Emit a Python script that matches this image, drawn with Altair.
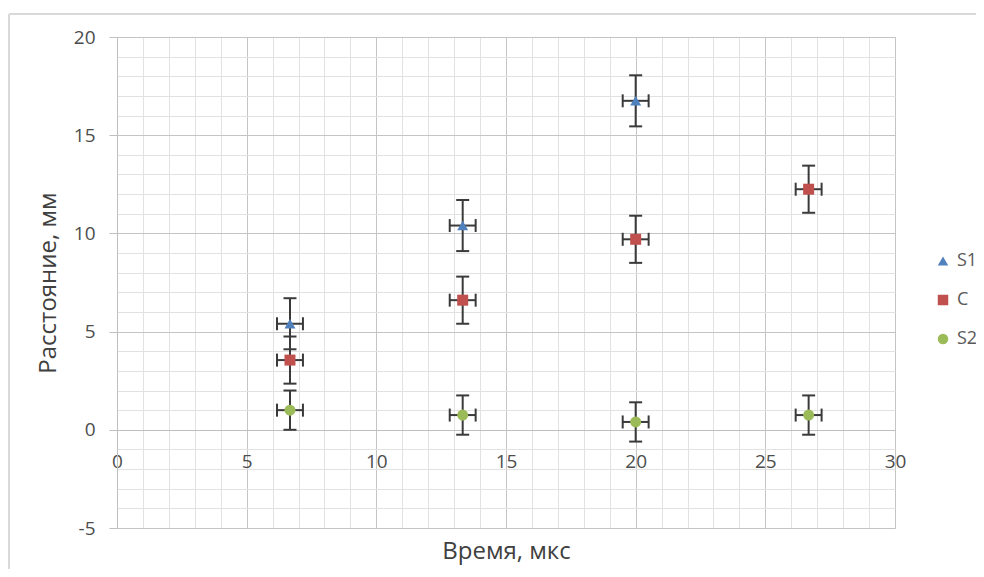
import altair as alt
import pandas as pd

series = ["S1", "S1", "S1", "C", "C", "C", "C", "S2", "S2", "S2", "S2"]
time_us = [6.67, 13.33, 20.0, 6.67, 13.33, 20.0, 26.67, 6.67, 13.33, 20.0, 26.67]
dist_mm = [5.4, 10.4, 16.75, 3.55, 6.6, 9.7, 12.25, 1.0, 0.75, 0.4, 0.75]
y_err = [1.3, 1.3, 1.3, 1.2, 1.2, 1.2, 1.2, 1.0, 1.0, 1.0, 1.0]
x_err = [0.5] * 11

series_order = ["S1", "C", "S2"]
series_colors = ["#4F81BD", "#C0504D", "#9BBB59"]
series_shapes = ["triangle-up", "square", "circle"]

x_major = [0, 5, 10, 15, 20, 25, 30]
y_major = [-5, 0, 5, 10, 15, 20]
x_minor = [v for v in range(0, 31) if v % 5]
y_minor = [v for v in range(-5, 21) if v % 5]

df = pd.DataFrame({"series": series, "t": time_us, "d": dist_mm, "ye": y_err, "xe": x_err})

FONT = "Open Sans"
xs = alt.Scale(domain=[0, 30], nice=False, zero=False)
ys = alt.Scale(domain=[-5, 20], nice=False, zero=False)
BAR = "#3a3a3a"
HYPHEN = "replace(datum.label, '\u2212', '-')"

base = alt.Chart(df).transform_calculate(
    y_lo="datum.d - datum.ye", y_hi="datum.d + datum.ye",
    x_lo="datum.t - datum.xe", x_hi="datum.t + datum.xe",
)

minor_x_axis = alt.Axis(orient="top", values=x_minor, labels=False, ticks=False, domain=False,
                        grid=True, gridColor="#e2e2e2", gridWidth=1, title=None)
minor_y_axis = alt.Axis(orient="right", values=y_minor, labels=False, ticks=False, domain=False,
                        grid=True, gridColor="#e2e2e2", gridWidth=1, title=None)

y_bars = base.mark_rule(color=BAR, strokeWidth=2).encode(
    x=alt.X("t:Q", scale=xs, axis=minor_x_axis),
    y=alt.Y("y_lo:Q", scale=ys, axis=minor_y_axis),
    y2="y_hi:Q",
)
x_bars = base.mark_rule(color=BAR, strokeWidth=2).encode(
    x=alt.X("x_lo:Q", scale=xs, axis=None),
    x2="x_hi:Q",
    y=alt.Y("d:Q", scale=ys, axis=None),
)
y_caps = base.transform_fold(["y_lo", "y_hi"], as_=["k", "ycap"]).mark_tick(
    orient="horizontal", size=13, thickness=2, color=BAR, opacity=1
).encode(
    x=alt.X("t:Q", scale=xs, axis=None),
    y=alt.Y("ycap:Q", scale=ys, axis=None),
)
x_caps = base.transform_fold(["x_lo", "x_hi"], as_=["k", "xcap"]).mark_tick(
    orient="vertical", size=13, thickness=2, color=BAR, opacity=1
).encode(
    x=alt.X("xcap:Q", scale=xs, axis=None),
    y=alt.Y("d:Q", scale=ys, axis=None),
)

major_x_axis = alt.Axis(orient="bottom", values=x_major, offset=-98, ticks=False,
                        domain=True, domainColor="#bfbfbf", domainWidth=1,
                        grid=True, gridColor="#c4c4c4", gridWidth=1,
                        labelFont=FONT, labelFontSize=19, labelColor="#4d4d4d", labelPadding=22,
                        labelFlush=False, labelExpr=HYPHEN,
                        title="Время, мкс", titleFont=FONT, titleFontSize=24, titleFontWeight="normal",
                        titleColor="#404040", titleY=121, titleBaseline="middle")
major_y_axis = alt.Axis(orient="left", values=y_major, ticks=True, tickSize=8, tickColor="#bfbfbf",
                        domain=True, domainColor="#bfbfbf", domainWidth=1,
                        grid=True, gridColor="#c4c4c4", gridWidth=1,
                        labelFont=FONT, labelFontSize=19, labelColor="#4d4d4d", labelPadding=14,
                        labelExpr=HYPHEN,
                        title="Расстояние, мм", titleFont=FONT, titleFontSize=24, titleFontWeight="normal",
                        titleColor="#404040", titleX=-69, titleBaseline="middle")

legend = alt.Legend(orient="none", legendX=817, legendY=215, title=None, padding=0,
                    rowPadding=21, labelFont=FONT, labelFontSize=18, labelColor="#595959",
                    symbolSize=110, labelOffset=5, symbolStrokeWidth=0)

points = base.mark_point(filled=True, size=121, opacity=1).encode(
    x=alt.X("t:Q", scale=xs, axis=major_x_axis),
    y=alt.Y("d:Q", scale=ys, axis=major_y_axis),
    color=alt.Color("series:N", scale=alt.Scale(domain=series_order, range=series_colors), legend=legend),
    shape=alt.Shape("series:N", scale=alt.Scale(domain=series_order, range=series_shapes), legend=legend),
)

border_top = alt.Chart(df).mark_rule(color="#d9d9d9", strokeWidth=1).encode(
    x=alt.value(-108), x2=alt.value(880), y=alt.value(-23))
border_left = alt.Chart(df).mark_rule(color="#d9d9d9", strokeWidth=1).encode(
    x=alt.value(-108), y=alt.value(-23), y2=alt.value(540))

chart = alt.layer(y_bars, x_bars, y_caps, x_caps, points, border_top, border_left).resolve_axis(
    x="independent", y="independent"
).properties(
    width=778, height=491,
    autosize=alt.AutoSizeParams(type="none"),
    padding={"left": 109, "top": 29, "right": 81, "bottom": 41},
).configure_view(stroke=None).configure(background="white")

chart.save("out.html", embed_options={"renderer": "svg", "actions": False})
